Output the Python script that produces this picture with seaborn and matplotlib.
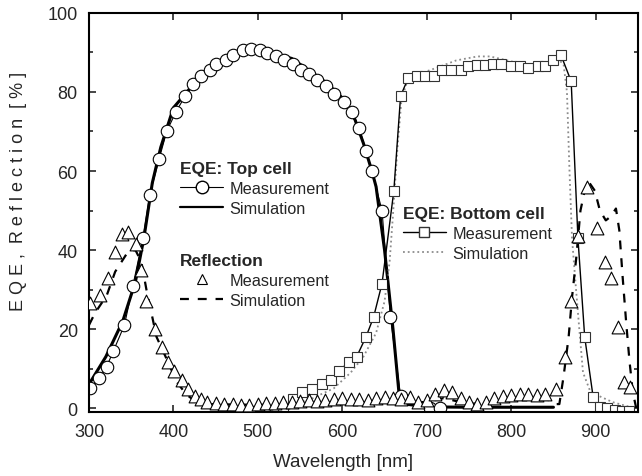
import numpy as np
import pandas as pd
import matplotlib
matplotlib.use('Agg')
import matplotlib.pyplot as plt
from matplotlib.lines import Line2D
import seaborn as sns

# EQE top cell, measurement (circles)
top_meas_wl = [301, 312, 321, 329, 342, 352, 364, 372, 383, 392, 403, 414, 423, 433, 443, 451,
               462, 470, 482, 492, 502, 511, 522, 531, 541, 551, 561, 570, 581, 590, 602, 611,
               620, 628, 635, 647, 657, 669, 704, 716]
top_meas_eqe = [5, 7.5, 10.5, 14.5, 21, 31, 43, 54, 63, 70, 75, 79, 82, 84, 85.5, 87,
                88, 89.3, 90.6, 90.8, 90.6, 89.8, 89, 88, 87, 85.5, 84.5, 83, 81.5, 79.5, 77.5, 75,
                71, 65, 60, 50, 23, 3, 0, 0]

# EQE top cell, simulation
top_sim_wl = [300, 320, 340, 355, 365, 375, 385, 400, 420, 440, 460, 480, 500, 510, 520, 540,
              560, 580, 600, 615, 625, 635, 640, 650, 660, 667, 675, 700, 750, 800, 850]
top_sim_eqe = [6, 13, 22, 32, 43, 57, 66, 76, 81, 85, 88, 90, 91, 91, 89.5, 88.5,
               85.5, 82.5, 78.5, 73, 67, 60, 56, 40, 20, 4, 1, 0.3, 0.2, 0.2, 0.2]

# EQE bottom cell, measurement (squares)
bot_meas_wl = [490, 500, 510, 520, 530, 541, 552, 564, 576, 586, 596, 608, 617, 628, 637, 647,
               661, 669, 678, 688, 698, 709, 718, 729, 740, 749, 759, 769, 778, 788, 800, 810,
               820, 832, 840, 850, 859, 871, 879, 887, 897, 905, 913, 923, 931, 940]
bot_meas_eqe = [-0.8, -0.8, -0.8, -0.8, -0.5, 2.3, 4, 4.8, 6, 7, 9.4, 11.7, 13, 18, 23, 31.5,
                55, 79, 83.5, 84, 84, 84, 85.5, 85.5, 85.5, 86.5, 86.8, 86.8, 87, 87, 86.5, 86.5,
                86, 86.5, 86.5, 88, 89.3, 82.7, 43, 18, 2.8, 0.3, 0, -0.5, -0.8, -0.8]

# EQE bottom cell, simulation
bot_sim_wl = [520, 560, 590, 610, 625, 640, 650, 656, 660, 665, 670, 678, 690, 710, 735, 760,
              775, 795, 815, 835, 848, 857, 862, 866, 869, 872, 876, 881, 885, 894, 920, 945]
bot_sim_eqe = [0, 2, 5, 9, 13, 19, 27, 37, 49, 65, 78, 83.5, 84.5, 86, 88, 89,
               89, 88, 87, 86, 86.5, 88, 87, 80, 60, 43, 32, 19, 9, 4, 1.5, 0]

# Reflection, measurement (triangles)
refl_meas_wl = [301, 313, 322, 331, 339, 346, 356, 362, 368, 378, 386, 393, 401, 410, 417, 425,
                433, 440, 450, 460, 470, 480, 490, 500, 510, 520, 530, 540, 550, 560, 570, 580,
                590, 600, 610, 620, 630, 640, 650, 660, 670, 680, 690, 700, 710, 720, 730, 740,
                750, 760, 770, 780, 790, 800, 810, 820, 830, 840, 853, 864, 871, 879, 890, 902,
                911, 918, 926, 934, 941]
refl_meas_r = [26.5, 28.5, 33, 39.5, 44, 44.5, 41.5, 35, 27, 20, 15.5, 11.7, 9.4, 7, 4.8, 3,
               2.3, 1.5, 1.2, 1, 1, 0.8, 0.8, 1, 1.2, 1.2, 1.5, 1.5, 1.8, 2, 1.8, 2,
               2.2, 2.5, 2.3, 2.2, 2, 2.5, 2.8, 2.5, 2.3, 2.8, 1.5, 2, 3.5, 4.5, 4, 2.5,
               1.5, 1, 1.5, 2.5, 3, 3.2, 3.5, 3.5, 3.2, 3.5, 4.8, 13, 27, 43.5, 56, 45.5,
               37, 33, 20.5, 6.6, 5.3]

# Reflection, simulation
refl_sim_wl = [300, 307, 321, 331, 346, 355, 362, 368, 380, 392, 404, 415, 427, 440, 500, 550,
               600, 650, 700, 720, 750, 800, 840, 852, 857, 862, 868, 872, 877, 882, 887, 891,
               899, 905, 912, 918, 924, 928, 932, 936, 940, 944, 948]
refl_sim_r = [21, 24, 28.5, 34.5, 39.5, 40, 37, 30, 18, 12.4, 6.6, 3.5, 1.5, 1, 0.8, 1,
              1.5, 1.5, 1.5, 2.5, 1, 2, 2.5, 1, 1, 8, 18, 28, 38, 50, 55, 57.5,
              55, 50, 47.5, 48.5, 50.5, 45, 33, 22, 12, 4, 0]

sns.set_style("ticks")
plt.rcParams['font.family'] = ['Liberation Sans', 'DejaVu Sans']

fig = plt.figure(figsize=(6.42, 4.77), dpi=100)
ax = fig.add_axes([0.1386, 0.1342, 0.855, 0.8365])

gray = '#8c8c8c'

# simulations
sns.lineplot(x=top_sim_wl, y=top_sim_eqe, sort=False, estimator=None, color='black', lw=2.2, ax=ax)
sns.lineplot(x=bot_sim_wl, y=bot_sim_eqe, sort=False, estimator=None, color=gray, lw=1.3,
             linestyle=':', ax=ax)
sns.lineplot(x=refl_sim_wl, y=refl_sim_r, sort=False, estimator=None, color='black', lw=1.6,
             dashes=False, ax=ax).lines[-1].set_dashes((4, 4))

# measurements
sns.lineplot(x=bot_meas_wl, y=bot_meas_eqe, sort=False, estimator=None, color='black', lw=1.0,
             marker='s', markersize=7.5, markerfacecolor='white', markeredgecolor='#333333',
             markeredgewidth=0.8, ax=ax)
sns.lineplot(x=top_meas_wl, y=top_meas_eqe, sort=False, estimator=None, color='black', lw=0.8,
             marker='o', markersize=9, markerfacecolor='white', markeredgecolor='black',
             markeredgewidth=0.8, ax=ax)
sns.scatterplot(x=refl_meas_wl, y=refl_meas_r, marker='^', s=85, facecolor='white',
                edgecolor='black', linewidth=0.8, zorder=5, ax=ax)

ax.set_xlim(300, 950)
ax.set_ylim(-1, 100)
ax.set_xticks([300, 400, 500, 600, 700, 800, 900])
ax.set_yticks([0, 20, 40, 60, 80, 100])
ax.set_yticks(np.arange(0, 101, 10), minor=True)
ax.tick_params(which='both', direction='in', top=True, right=True, width=1.2)
ax.tick_params(which='major', length=5, labelsize=13, pad=8)
ax.tick_params(which='minor', length=3)
for sp in ax.spines.values():
    sp.set_linewidth(1.5)
    sp.set_color('black')

ax.set_xlabel('Wavelength [nm]', fontsize=13.5)
ax.xaxis.set_label_coords(0.462, -0.103)
ax.set_ylabel('E Q E ,  R e f l e c t i o n  [ % ]', fontsize=13)
ax.yaxis.set_label_coords(-0.113, 0.554)

# legends
leg_kw = dict(frameon=False, alignment='left', loc='upper left', fontsize=11.7,
              handlelength=2.65, handletextpad=0.4, labelspacing=0.3, borderpad=0,
              borderaxespad=0, title_fontproperties={'weight': 'bold', 'size': 12.5})

h_top = [Line2D([], [], color='black', lw=0.8, marker='o', markersize=9,
                markerfacecolor='white', markeredgecolor='black'),
         Line2D([], [], color='black', lw=1.6)]
leg1 = ax.legend(h_top, ['Measurement', 'Simulation'], title='EQE: Top cell',
                 bbox_to_anchor=(0.166, 0.629), **leg_kw)
ax.add_artist(leg1)

h_refl = [Line2D([], [], ls='none', marker='^', markersize=7.5,
                 markerfacecolor='white', markeredgecolor='black', markeredgewidth=0.8),
          Line2D([], [], color='black', lw=1.6, dashes=(4, 4))]
leg2 = ax.legend(h_refl, ['Measurement', 'Simulation'], title='Reflection',
                 bbox_to_anchor=(0.166, 0.398), **leg_kw)
ax.add_artist(leg2)

h_bot = [Line2D([], [], color='black', lw=1.0, marker='s', markersize=7.5,
                markerfacecolor='white', markeredgecolor='#333333'),
         Line2D([], [], color=gray, lw=1.3, ls=':')]
ax.legend(h_bot, ['Measurement', 'Simulation'], title='EQE: Bottom cell',
          bbox_to_anchor=(0.572, 0.516), **leg_kw)

fig.savefig('out.png', dpi=100)
